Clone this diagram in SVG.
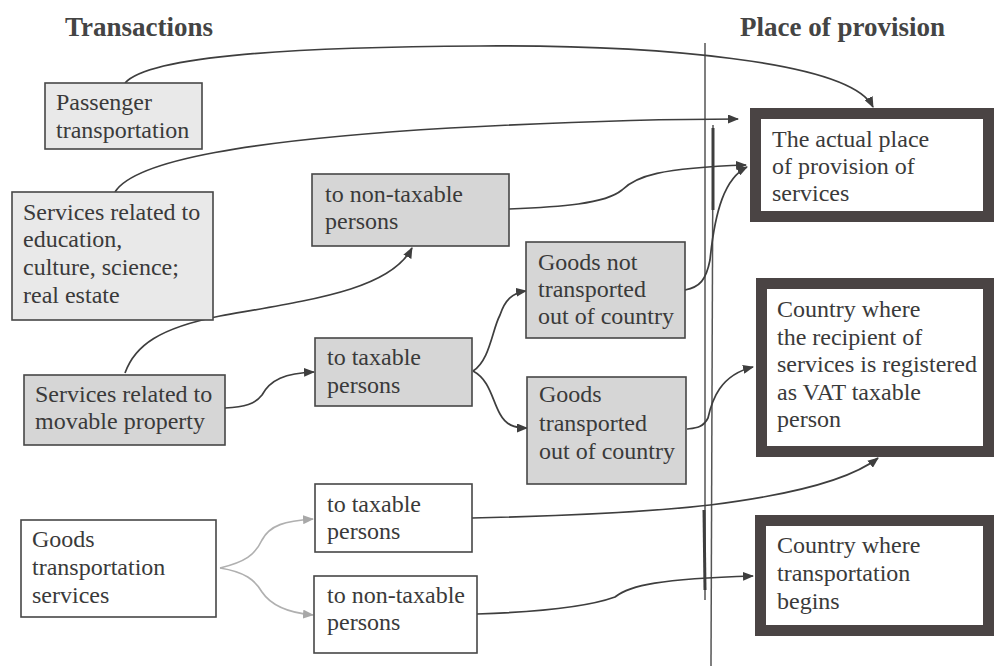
<svg xmlns="http://www.w3.org/2000/svg" width="994" height="666" viewBox="0 0 994 666">
<style>
.t{font-family:"Liberation Serif","Times New Roman",serif;font-size:24px;fill:#3a3a3a}
.h{font-family:"Liberation Serif","Times New Roman",serif;font-size:27px;font-weight:bold;fill:#444}
.b{stroke:#474747;stroke-width:1.6}
.lg{fill:#e9e9e9}
.dg{fill:#d6d6d6}
.w{fill:#ffffff}
.tb{fill:#fff;stroke:#4a4444;stroke-width:11}
.c{fill:none;stroke:#3e3e3e;stroke-width:1.7}
.cg{fill:none;stroke:#b0b0b0;stroke-width:1.7}
.v{fill:none;stroke:#555;stroke-width:1.5}
</style>
<defs>
<marker id="a" markerWidth="11" markerHeight="9" refX="10" refY="4.5" orient="auto" markerUnits="userSpaceOnUse"><path d="M0,0 L11,4.5 L0,9 z" fill="#3e3e3e"/></marker>
<marker id="ag" markerWidth="11" markerHeight="9" refX="10" refY="4.5" orient="auto" markerUnits="userSpaceOnUse"><path d="M0,0 L11,4.5 L0,9 z" fill="#a8a8a8"/></marker>
</defs>
<rect width="994" height="666" fill="#fff"/>
<text class="h" x="65" y="36">Transactions</text>
<text class="h" x="740" y="36">Place of provision</text>

<g id="divider">
<path class="v" d="M705,43 L705,600"/>
<path class="v" d="M713,125 L711,666"/>
<path d="M713,128 L713,210" stroke="#3e3e3e" stroke-width="3" fill="none"/>
<path d="M704,510 L705,590" stroke="#3e3e3e" stroke-width="3" fill="none"/>
</g>

<g id="connectors">
<path class="c" d="M125,83 C150,55 300,47 480,46 C650,45 850,60 873,107" marker-end="url(#a)"/>
<path class="c" d="M115,192 C135,160 250,140 450,128 C580,121 680,119 738,119" marker-end="url(#a)"/>
<path class="c" d="M509,209 C560,207 605,204 622,190 C636,176 660,168 746,165" marker-end="url(#a)"/>
<path class="c" d="M685,290 C700,287 706,280 710,260 C715,210 725,178 747,167" marker-end="url(#a)"/>
<path class="c" d="M687,429 C695,428 703,428 708,418 C712,400 720,375 753,367" marker-end="url(#a)"/>
<path class="c" d="M472,518 C560,516 650,512 710,505 C790,495 850,480 878,458" marker-end="url(#a)"/>
<path class="c" d="M477,614 C540,612 590,606 615,597 C630,585 660,579 753,576" marker-end="url(#a)"/>
<path class="c" d="M125,373 C135,345 160,328 220,316 C310,300 390,290 412,248" marker-end="url(#a)"/>
<path class="c" d="M225,408 C245,407 255,404 262,395 C270,380 285,373 314,372" marker-end="url(#a)"/>
<path class="c" d="M473,371 C490,360 492,330 500,315 C505,300 512,293 526,291" marker-end="url(#a)"/>
<path class="c" d="M473,371 C490,380 492,400 500,414 C506,425 514,428 527,428" marker-end="url(#a)"/>
<path class="cg" d="M220,568 C245,562 255,555 262,540 C270,525 285,521 313,519" marker-end="url(#ag)"/>
<path class="cg" d="M220,568 C245,572 255,580 262,592 C272,607 290,613 313,615" marker-end="url(#ag)"/>
</g>

<g id="passenger">
<rect class="b lg" x="45" y="83" width="157" height="66"/>
<text class="t" x="56" y="110">Passenger</text>
<text class="t" x="56" y="138">transportation</text>
</g>
<g id="education">
<rect class="b lg" x="12" y="192" width="201" height="128"/>
<text class="t" x="23" y="220">Services related to</text>
<text class="t" x="23" y="247">education,</text>
<text class="t" x="23" y="275">culture, science;</text>
<text class="t" x="23" y="303">real estate</text>
</g>
<g id="nontaxable1">
<rect class="b dg" x="312" y="174" width="197" height="72"/>
<text class="t" x="325" y="202">to non-taxable</text>
<text class="t" x="325" y="229">persons</text>
</g>
<g id="goodsnot">
<rect class="b dg" x="526" y="242" width="159" height="96"/>
<text class="t" x="538" y="270">Goods not</text>
<text class="t" x="538" y="297">transported</text>
<text class="t" x="538" y="324">out of country</text>
</g>
<g id="taxable1">
<rect class="b dg" x="315" y="338" width="157" height="68"/>
<text class="t" x="327" y="365">to taxable</text>
<text class="t" x="327" y="393">persons</text>
</g>
<g id="goodsout">
<rect class="b dg" x="527" y="377" width="159" height="107"/>
<text class="t" x="539" y="402">Goods</text>
<text class="t" x="539" y="431">transported</text>
<text class="t" x="539" y="459">out of country</text>
</g>
<g id="movable">
<rect class="b dg" x="24" y="375" width="201" height="70"/>
<text class="t" x="35" y="402">Services related to</text>
<text class="t" x="35" y="429">movable property</text>
</g>
<g id="goodstransport">
<rect class="b w" x="21" y="520" width="195" height="97"/>
<text class="t" x="32" y="547">Goods</text>
<text class="t" x="32" y="575">transportation</text>
<text class="t" x="32" y="603">services</text>
</g>
<g id="taxable2">
<rect class="b w" x="315" y="484" width="157" height="68"/>
<text class="t" x="327" y="512">to taxable</text>
<text class="t" x="327" y="539">persons</text>
</g>
<g id="nontaxable2">
<rect class="b w" x="314" y="576" width="163" height="77"/>
<text class="t" x="327" y="603">to non-taxable</text>
<text class="t" x="327" y="630">persons</text>
</g>
<g id="actualplace">
<rect class="tb" x="755.5" y="113.5" width="233" height="103"/>
<text class="t" x="772" y="147">The actual place</text>
<text class="t" x="772" y="174">of provision of</text>
<text class="t" x="772" y="201">services</text>
</g>
<g id="recipient">
<rect class="tb" x="761.5" y="283.5" width="227" height="168"/>
<text class="t" x="777" y="317">Country where</text>
<text class="t" x="777" y="345">the recipient of</text>
<text class="t" x="777" y="372">services is registered</text>
<text class="t" x="777" y="400">as VAT taxable</text>
<text class="t" x="777" y="427">person</text>
</g>
<g id="transportbegins">
<rect class="tb" x="760.5" y="520.5" width="228" height="110"/>
<text class="t" x="777" y="553">Country where</text>
<text class="t" x="777" y="581">transportation</text>
<text class="t" x="777" y="609">begins</text>
</g>
</svg>
